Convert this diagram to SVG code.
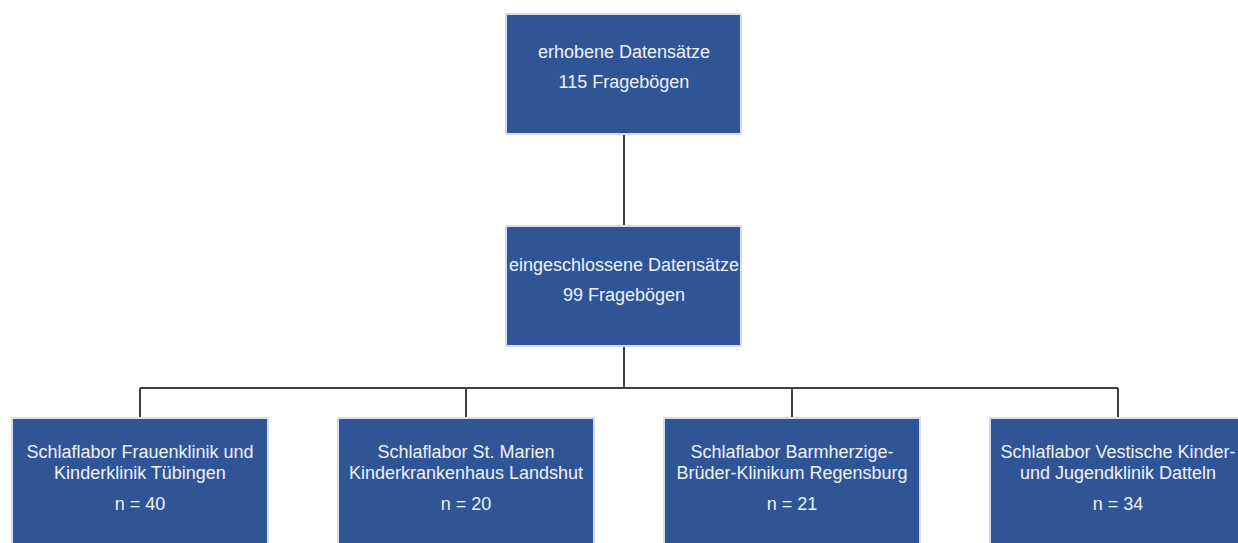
<svg xmlns="http://www.w3.org/2000/svg" width="1238" height="543" viewBox="0 0 1238 543">
<style>
.box{fill:#2f5597;stroke:#d6deec;stroke-width:2}
.t{font-family:"Liberation Sans",Arial,sans-serif;font-size:18px;fill:#eef1f7;text-anchor:middle}
.c{stroke:#404040;stroke-width:2;fill:none}
</style>
<rect width="1238" height="543" fill="#ffffff"/>
<g id="connectors">
<path class="c" d="M624 134V226M624 346V388M140 388H1118M140 388V418M466 388V418M792 388V418M1118 388V418"/>
</g>
<g id="n1"><rect class="box" x="506" y="14" width="235" height="120"/>
<text class="t" x="624" y="58">erhobene Datensätze</text><text class="t" x="624" y="88">115 Fragebögen</text></g>
<g id="n2"><rect class="box" x="506" y="226" width="235" height="120"/>
<text class="t" x="624" y="271">eingeschlossene Datensätze</text><text class="t" x="624" y="301">99 Fragebögen</text></g>
<g id="n3"><rect class="box" x="12" y="418" width="256" height="140"/>
<text class="t" x="140" y="458">Schlaflabor Frauenklinik und</text><text class="t" x="140" y="479">Kinderklinik Tübingen</text><text class="t" x="140" y="510">n = 40</text></g>
<g id="n4"><rect class="box" x="338" y="418" width="256" height="140"/>
<text class="t" x="466" y="458">Schlaflabor St. Marien</text><text class="t" x="466" y="479">Kinderkrankenhaus Landshut</text><text class="t" x="466" y="510">n = 20</text></g>
<g id="n5"><rect class="box" x="664" y="418" width="256" height="140"/>
<text class="t" x="792" y="458">Schlaflabor Barmherzige-</text><text class="t" x="792" y="479">Brüder-Klinikum Regensburg</text><text class="t" x="792" y="510">n = 21</text></g>
<g id="n6"><rect class="box" x="990" y="418" width="256" height="140"/>
<text class="t" x="1118" y="458">Schlaflabor Vestische Kinder-</text><text class="t" x="1118" y="479">und Jugendklinik Datteln</text><text class="t" x="1118" y="510">n = 34</text></g>
</svg>
